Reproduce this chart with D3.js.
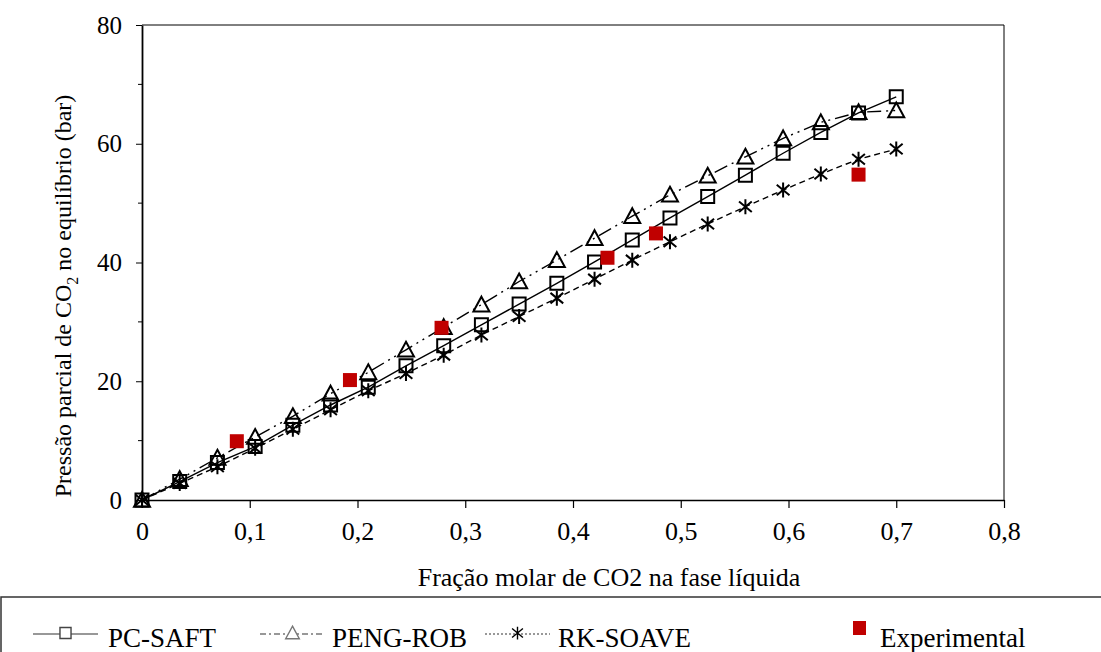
<!DOCTYPE html>
<html>
<head>
<meta charset="utf-8">
<script src="https://cdn.jsdelivr.net/npm/d3@7"></script>
<style>
  body { margin: 0; background: #fff; }
  svg text { font-family: "Liberation Serif", "Times New Roman", serif; fill: #000; }
</style>
</head>
<body>
<svg id="chart" width="1101" height="652"></svg>
<script>
// x positions of the model points (CO2 mole fraction in liquid)
const xModel = [0, 0.035, 0.07, 0.105, 0.14, 0.175, 0.21, 0.245, 0.28, 0.315, 0.35,
                0.385, 0.42, 0.455, 0.49, 0.525, 0.56, 0.595, 0.63, 0.665, 0.70];
const pcSaft = [0, 3.1, 6.3, 9.0, 12.6, 16.0, 19.0, 22.6, 26.0, 29.5, 33.0,
                36.5, 40.1, 43.8, 47.5, 51.1, 54.7, 58.4, 61.9, 65.2, 67.9];
const pengRob = [0, 3.5, 7.1, 10.6, 14.1, 17.9, 21.5, 25.3, 29.1, 32.9, 36.8,
                 40.4, 44.1, 47.8, 51.4, 54.6, 57.8, 60.9, 63.6, 65.3, 65.6];
const rkSoave = [0, 2.8, 5.6, 8.7, 11.9, 15.2, 18.4, 21.3, 24.4, 27.8, 30.9,
                 34.0, 37.2, 40.4, 43.5, 46.5, 49.4, 52.2, 54.9, 57.4, 59.1];
const xExp = [0.088, 0.193, 0.278, 0.432, 0.477, 0.665];
const yExp = [9.9, 20.2, 29.0, 40.8, 44.9, 54.8];

const xTicks = [0, 0.1, 0.2, 0.3, 0.4, 0.5, 0.6, 0.7, 0.8];
const yTicks = [0, 20, 40, 60, 80];
const yMinor = [10, 30, 50, 70];

const svg = d3.select("#chart");
const mLeft = 142, mRight = 1004, mTop = 25, mBottom = 500;

const x = d3.scaleLinear().domain([0, 0.8]).range([mLeft, mRight]);
const y = d3.scaleLinear().domain([0, 80]).range([mBottom, mTop]);

// frame (top and right)
svg.append("path")
    .attr("d", `M${mLeft},${mTop}H${mRight}V${mBottom}`)
    .attr("fill", "none").attr("stroke", "#000").attr("stroke-width", 1);

// x axis
const fmt = d => d === 0 ? "0" : d3.format(".1f")(d).replace(".", ",");
const gx = svg.append("g").attr("transform", `translate(0,${mBottom})`)
    .call(d3.axisBottom(x).tickValues(xTicks).tickFormat(fmt).tickSize(8).tickSizeOuter(0).tickPadding(14));
gx.attr("font-family", null).attr("font-size", null);
gx.select(".domain").attr("stroke-width", 1.5);
gx.selectAll(".tick line").attr("stroke-width", 1.2);
gx.selectAll("text").attr("font-size", 26);

// y axis
const gy = svg.append("g").attr("transform", `translate(${mLeft},0)`)
    .call(d3.axisLeft(y).tickValues(yTicks).tickSize(6).tickSizeOuter(0).tickPadding(14));
gy.attr("font-family", null).attr("font-size", null);
gy.select(".domain").attr("stroke-width", 1.8);
gy.selectAll("text").attr("font-size", 25);
gy.selectAll(".minor").data(yMinor).enter().append("line")
    .attr("x1", -4).attr("x2", 0)
    .attr("y1", d => y(d)).attr("y2", d => y(d))
    .attr("stroke", "#000").attr("stroke-width", 1);

// axis titles
svg.append("text")
    .attr("x", 609).attr("y", 586).attr("text-anchor", "middle")
    .attr("font-size", 26).text("Fração molar de CO2 na fase líquida");

const yt = svg.append("text")
    .attr("transform", "translate(71,296) rotate(-90)")
    .attr("text-anchor", "middle").attr("font-size", 24);
yt.append("tspan").text("Pressão parcial de CO");
yt.append("tspan").attr("font-size", 16).attr("dy", 7).text("2");
yt.append("tspan").attr("dy", -7).text(" no equilíbrio  (bar)");

// marker shapes
const squarePath = s => `M${-s},${-s}H${s}V${s}H${-s}Z`;
const triPath = s => `M0,${-s}L${s},${s * 0.85}H${-s}Z`;
const starPath = s => `M0,${-s}V${s}M${-s * 0.85},${-s * 0.7}L${s * 0.85},${s * 0.7}M${-s * 0.85},${s * 0.7}L${s * 0.85},${-s * 0.7}`;

const series = [
  { name: "PC-SAFT", values: pcSaft, dash: null, shape: squarePath, size: 6.5 },
  { name: "PENG-ROB", values: pengRob, dash: "14,5,2,5,2,5", shape: triPath, size: 8 },
  { name: "RK-SOAVE", values: rkSoave, dash: "6,4", shape: starPath, size: 7.5 }
];

const line = d3.line().x(d => x(d[0])).y(d => y(d[1]));

series.forEach(s => {
  const pts = xModel.map((xv, i) => [xv, s.values[i]]);
  svg.append("path").datum(pts)
      .attr("d", line).attr("fill", "none").attr("stroke", "#000")
      .attr("stroke-width", 1.4)
      .attr("stroke-dasharray", s.dash);
});

series.forEach(s => {
  const pts = xModel.map((xv, i) => [xv, s.values[i]]);
  svg.append("g").selectAll("path").data(pts).enter().append("path")
      .attr("transform", d => `translate(${x(d[0])},${y(d[1])})`)
      .attr("d", s.shape(s.size))
      .attr("fill", "none").attr("stroke", "#000").attr("stroke-width", 2);
});

// experimental points
svg.append("g").selectAll("rect").data(xExp).enter().append("rect")
    .attr("x", (d, i) => x(d) - 7).attr("y", (d, i) => y(yExp[i]) - 7)
    .attr("width", 14).attr("height", 14)
    .attr("fill", "#c00000");

// legend
const lg = svg.append("g");
lg.append("rect").attr("x", 1).attr("y", 597).attr("width", 1120).attr("height", 80)
    .attr("fill", "none").attr("stroke", "#333").attr("stroke-width", 1.5);

const legItems = [
  { s: series[0], x0: 33, w: 65, tx: 108, dash: null, col: "#444" },
  { s: series[1], x0: 260, w: 65, tx: 332, dash: "6,3,2,3", col: "#777" },
  { s: series[2], x0: 485, w: 65, tx: 558, dash: "2,2", col: "#000" }
];
const ly = 634;
legItems.forEach(it => {
  lg.append("line").attr("x1", it.x0).attr("x2", it.x0 + it.w)
      .attr("y1", ly).attr("y2", ly)
      .attr("stroke", "#333").attr("stroke-width", 1.2)
      .attr("stroke-dasharray", it.dash);
  lg.append("path").attr("transform", `translate(${it.x0 + it.w / 2},${ly - 1})`)
      .attr("d", it.s.shape(it.s.size * 0.85))
      .attr("fill", "#fff").attr("stroke", it.col).attr("stroke-width", 1.4);
  lg.append("text").attr("x", it.tx).attr("y", 647)
      .attr("font-size", 27).text(it.s.name);
});
lg.append("rect").attr("x", 853).attr("y", 621).attr("width", 13).attr("height", 14)
    .attr("fill", "#c00000");
lg.append("text").attr("x", 880).attr("y", 647).attr("font-size", 27).text("Experimental");
</script>
</body>
</html>
